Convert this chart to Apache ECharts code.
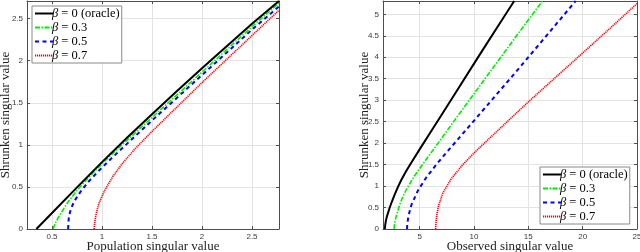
<!DOCTYPE html>
<html><head><meta charset="utf-8">
<script src="https://cdn.jsdelivr.net/npm/echarts@6/dist/echarts.min.js"></script>
<style>html,body{margin:0;padding:0;background:#fff}#c{width:640px;height:252px}</style>
</head><body><div id="c"></div>
<script>
// ---------- legend / series names ----------
const seriesNames = ['β = 0 (oracle)', 'β = 0.3', 'β = 0.5', 'β = 0.7'];

// ---------- left panel: shrunken vs population singular value ----------
const popB0X = [0.344, 0.5, 0.75, 1.0, 1.25, 1.5, 1.75, 2.0, 2.25, 2.5, 2.77];
const popB0Y = [0, 0.19, 0.495, 0.795, 1.085, 1.365, 1.64, 1.91, 2.175, 2.44, 2.71];
const popB3X = [0.511, 0.53, 0.56, 0.6, 0.66, 0.75, 0.9, 1.0, 1.2, 1.5, 1.75, 2.0, 2.25, 2.5, 2.77];
const popB3Y = [0, 0.06, 0.13, 0.21, 0.32, 0.46, 0.655, 0.775, 1.0, 1.325, 1.595, 1.865, 2.135, 2.405, 2.685];
const popB5X = [0.661, 0.667, 0.68, 0.7, 0.728, 0.795, 0.878, 0.978, 1.095, 1.211, 1.328, 1.5, 1.75, 2.0, 2.25, 2.5, 2.77];
const popB5Y = [0, 0.12, 0.2, 0.27, 0.34, 0.46, 0.58, 0.705, 0.84, 0.97, 1.10, 1.29, 1.56, 1.83, 2.10, 2.37, 2.645];
const popB7X = [0.921, 0.925, 0.935, 0.95, 0.968, 1.0, 1.028, 1.111, 1.211, 1.328, 1.5, 1.75, 2.0, 2.25, 2.5, 2.77];
const popB7Y = [0, 0.05, 0.14, 0.22, 0.30, 0.39, 0.46, 0.63, 0.79, 0.95, 1.16, 1.45, 1.74, 2.02, 2.30, 2.60];

// ---------- right panel: shrunken vs observed singular value ----------
const obsB0X = [1.8, 1.84, 1.9, 2.0, 2.25, 2.45, 2.7, 3.0, 3.3, 3.7, 4.1, 5.0, 6.0, 7.0, 8.5, 10.5, 12.5, 13.7];
const obsB0Y = [0, 0.1, 0.2, 0.3, 0.5, 0.64, 0.8, 0.975, 1.135, 1.32, 1.49, 1.855, 2.255, 2.65, 3.25, 4.05, 4.84, 5.31];
const obsB3X = [2.65, 2.68, 2.75, 2.9, 3.17, 3.45, 3.78, 4.15, 4.54, 5.0, 5.46, 6.5, 7.5, 8.5, 10, 12, 14, 16.3];
const obsB3Y = [0, 0.1, 0.2, 0.35, 0.57, 0.75, 0.92, 1.08, 1.24, 1.41, 1.57, 1.93, 2.28, 2.63, 3.15, 3.84, 4.53, 5.31];
const obsB5X = [3.84, 3.86, 3.92, 4.05, 4.24, 4.85, 5.61, 6.53, 7.6, 8.97, 10.3, 12, 14, 16, 19.35];
const obsB5Y = [0, 0.1, 0.22, 0.38, 0.56, 0.9, 1.2, 1.5, 1.82, 2.22, 2.61, 3.11, 3.7, 4.3, 5.31];
const obsB7X = [6.47, 6.49, 6.53, 6.6, 6.75, 7.14, 7.91, 8.97, 10.2, 11.42, 13.1, 15, 17.5, 20, 22.5, 25];
const obsB7Y = [0, 0.1, 0.22, 0.36, 0.55, 0.84, 1.17, 1.5, 1.82, 2.11, 2.51, 2.96, 3.53, 4.1, 4.67, 5.25];

// ---------- axis ranges & ticks ----------
const popXRange = [0.25, 2.77];
const popYRange = [0, 2.71];
const obsXRange = [1.63, 25];
const obsYRange = [0, 5.31];
const popXTicks = [0.5, 1, 1.5, 2, 2.5];
const obsXTicks = [5, 10, 15, 20, 25];
const popYTicks = [0, 0.5, 1, 1.5, 2, 2.5];
const obsYTicks = [0, 0.5, 1, 1.5, 2, 2.5, 3, 3.5, 4, 4.5, 5];

const xTitles = ['Population singular value', 'Observed singular value'];
const yTitle = 'Shrunken singular value';

// ---------- styles ----------
const colors = ['#000000', '#00ee00', '#0000ff', '#ff0000'];
const widths = [2, 1.6, 2, 1.6];
const types = ['solid', [5, 1.5, 1.5, 1.5], [4, 3.5], [1.2, 0.8]];

const zip = (xs, ys) => xs.map((x, i) => [x, ys[i]]);
const leftData = [zip(popB0X, popB0Y), zip(popB3X, popB3Y), zip(popB5X, popB5Y), zip(popB7X, popB7Y)];
const rightData = [zip(obsB0X, obsB0Y), zip(obsB3X, obsB3Y), zip(obsB5X, obsB5Y), zip(obsB7X, obsB7Y)];

const axisColor = '#4d4d4d';
const gridColor = '#e3e3e3';
const labelFont = { fontFamily: 'Liberation Sans', fontSize: 8, color: '#3a3a3a' };
const serif = 'Liberation Serif';

function mainX(gi, range, ticks, title) {
  return {
    type: 'value', gridIndex: gi, min: range[0], max: range[1], position: 'bottom',
    name: title, nameLocation: 'middle', nameGap: 11, nameMoveOverlap: false,
    nameTextStyle: { fontFamily: serif, fontSize: 13, color: '#222' },
    axisLine: { show: true, onZero: false, lineStyle: { color: axisColor, width: 1 } },
    axisTick: { show: true, inside: true, length: 3, customValues: ticks, lineStyle: { color: axisColor } },
    axisLabel: Object.assign({ customValues: ticks, margin: 4, formatter: v => String(v) }, labelFont),
    splitLine: { show: true, lineStyle: { color: gridColor, width: 1 } }
  };
}
function mirrorX(gi, range, ticks) {
  return {
    type: 'value', gridIndex: gi, min: range[0], max: range[1], position: 'top',
    axisLine: { show: true, onZero: false, lineStyle: { color: axisColor, width: 1 } },
    axisTick: { show: true, inside: true, length: 3, customValues: ticks, lineStyle: { color: axisColor } },
    axisLabel: { show: false }, splitLine: { show: false }
  };
}
function mainY(gi, range, ticks, gap) {
  return {
    type: 'value', gridIndex: gi, min: range[0], max: range[1], position: 'left',
    name: yTitle, nameLocation: 'middle', nameGap: gap, nameRotate: 90, nameMoveOverlap: false,
    nameTextStyle: { fontFamily: serif, fontSize: 13, color: '#222' },
    axisLine: { show: true, onZero: false, lineStyle: { color: axisColor, width: 1 } },
    axisTick: { show: true, inside: true, length: 3, customValues: ticks, lineStyle: { color: axisColor } },
    axisLabel: Object.assign({ customValues: ticks, margin: 4, formatter: v => String(v) }, labelFont),
    splitLine: { show: true, lineStyle: { color: gridColor, width: 1 } }
  };
}
function mirrorY(gi, range, ticks) {
  return {
    type: 'value', gridIndex: gi, min: range[0], max: range[1], position: 'right',
    axisLine: { show: true, onZero: false, lineStyle: { color: axisColor, width: 1 } },
    axisTick: { show: true, inside: true, length: 3, customValues: ticks, lineStyle: { color: axisColor } },
    axisLabel: { show: false }, splitLine: { show: false }
  };
}

const series = [];
[leftData, rightData].forEach((set, gi) => {
  set.forEach((d, k) => {
    series.push({
      type: 'line', name: seriesNames[k], data: d,
      xAxisIndex: gi * 2, yAxisIndex: gi * 2,
      symbol: 'none', smooth: false, clip: true,
      lineStyle: { color: colors[k], width: widths[k], type: types[k], join: 'round' },
      itemStyle: { color: colors[k] },
      z: 10 - k, silent: true
    });
  });
});

function legend(pos) {
  return Object.assign({
    orient: 'vertical', data: seriesNames,
    itemWidth: 18, itemHeight: 8, itemGap: 1,
    padding: [1, 2, 1, 2],
    backgroundColor: '#fff', borderColor: '#8a8a8a', borderWidth: 1,
    selectedMode: false,
    itemStyle: { opacity: 0 },
    textStyle: {
      fontFamily: serif, fontSize: 12.5, lineHeight: 12, color: '#000', padding: [0, 0, 0, -6],
      rich: { i: { fontFamily: serif, fontStyle: 'italic', fontSize: 12.5, lineHeight: 12, color: '#000' } }
    },
    formatter: n => n.replace('β', '{i|β}')
  }, pos);
}

const chart = echarts.init(document.getElementById('c'), null, { renderer: 'canvas' });
chart.setOption({
  animation: false,
  backgroundColor: '#fff',
  grid: [
    { left: 27, top: 1, width: 252, height: 228, containLabel: false, outerBoundsMode: 'none' },
    { left: 383, top: 1, width: 254, height: 228, containLabel: false, outerBoundsMode: 'none' }
  ],
  xAxis: [
    mainX(0, popXRange, popXTicks, xTitles[0]), mirrorX(0, popXRange, popXTicks),
    mainX(1, obsXRange, obsXTicks, xTitles[1]), mirrorX(1, obsXRange, obsXTicks)
  ],
  yAxis: [
    mainY(0, popYRange, popYTicks, 15), mirrorY(0, popYRange, popYTicks),
    mainY(1, obsYRange, obsYTicks, 12), mirrorY(1, obsYRange, obsYTicks)
  ],
  legend: [
    legend({ left: 32, top: 6 }),
    legend({ left: 540, top: 167 })
  ],
  series: series
});
</script></body></html>
